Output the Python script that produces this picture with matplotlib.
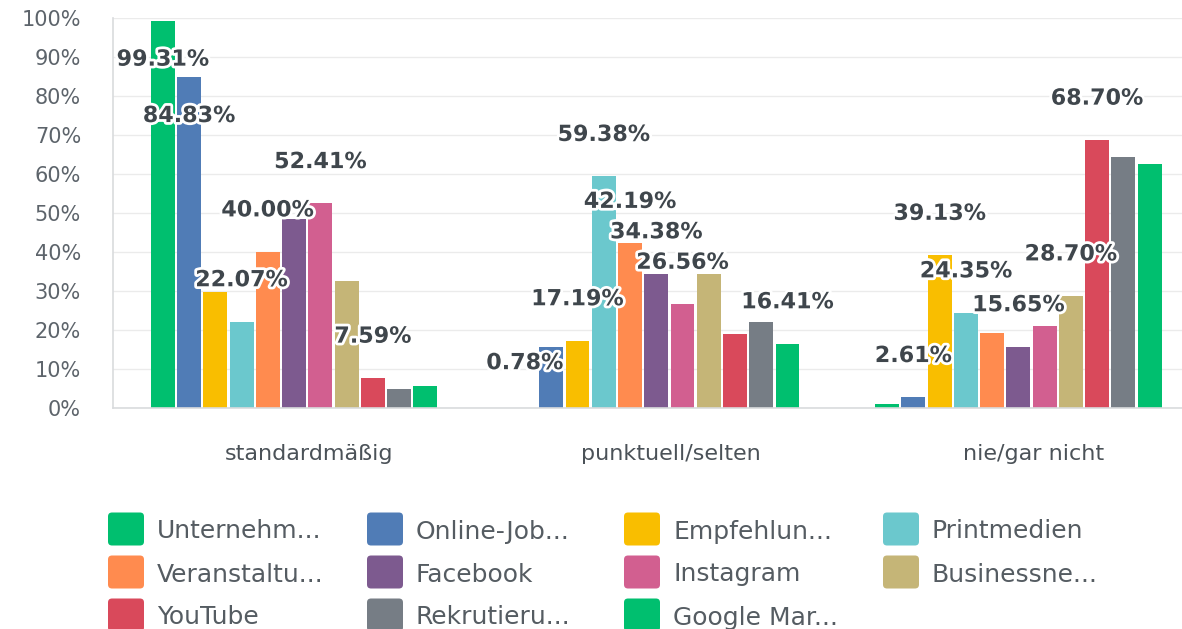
import numpy as np
import matplotlib
matplotlib.use('Agg')
import matplotlib.pyplot as plt
import matplotlib.patheffects as pe
from matplotlib.patches import FancyBboxPatch
from matplotlib.ticker import FuncFormatter
from matplotlib.transforms import ScaledTranslation

# categories on the x axis
categories = ['standardmäßig', 'punktuell/selten', 'nie/gar nicht']

# series names as shown (truncated) in the legend
series = ['Unternehm...', 'Online-Job...', 'Empfehlun...', 'Printmedien',
          'Veranstaltu...', 'Facebook', 'Instagram', 'Businessne...',
          'YouTube', 'Rekrutieru...', 'Google Mar...']
colors = ['#00bf6f', '#507cb6', '#f9be00', '#6bc8cd', '#ff8b4f', '#7d5a8f',
          '#d25f90', '#c5b577', '#d9495b', '#767d85', '#00bf6f']

# percent values per category, one entry per series
standard_vals = [99.31, 84.83, 29.66, 22.07, 40.00, 48.28, 52.41, 32.41, 7.59, 4.83, 5.52]
selten_vals = [0.0, 15.63, 17.19, 59.38, 42.19, 34.38, 26.56, 34.38, 18.75, 21.88, 16.41]
nie_vals = [0.87, 2.61, 39.13, 24.35, 19.13, 15.65, 20.87, 28.70, 68.70, 64.35, 62.61]

# visible value labels: (series index, label value) per category
labels_standard = [(0, 99.31), (1, 84.83), (3, 22.07), (4, 40.00), (6, 52.41), (8, 7.59)]
labels_selten = [(0, 0.78), (2, 17.19), (3, 59.38), (4, 42.19), (5, 34.38), (6, 26.56), (10, 16.41)]
labels_nie = [(1, 2.61), (2, 39.13), (3, 24.35), (5, 15.65), (7, 28.70), (8, 68.70)]

values = np.array([standard_vals, selten_vals, nie_vals])
labels = [labels_standard, labels_selten, labels_nie]

W, H = 1182, 629
fig = plt.figure(figsize=(W / 100, H / 100), dpi=100)
ax = fig.add_axes([113 / W, 221.5 / H, 1086.5 / W, 389.5 / H])

pitch = 0.0725
width = 0.066
x = np.arange(len(categories))
for j, name in enumerate(series):
    ax.bar(x + (j - 5) * pitch, values[:, j], width=width, color=colors[j], zorder=2)

# value labels with white halo
for i in range(len(categories)):
    for j, v in labels[i]:
        y = v + 10.6 if v + 10.6 < 92 else v - 10
        ax.text(x[i] + (j - 5) * pitch, y, f'{v:.2f}%', ha='center', va='center',
                fontsize=16, fontweight='bold', color='#3f464c', zorder=4,
                path_effects=[pe.withStroke(linewidth=4, foreground='white')])

ax.set_xlim(-0.5, 2.5)
ax.set_ylim(0, 100)
ax.set_yticks(np.arange(0, 101, 10))
ax.yaxis.set_major_formatter(FuncFormatter(lambda v, p: f'{v:.0f}%'))
ax.set_xticks(x)
ax.set_xticklabels(categories)
ax.tick_params(axis='y', length=0, pad=23, labelsize=15, labelcolor='#5d646b')
ax.tick_params(axis='x', length=0, pad=26, labelsize=16, labelcolor='#4b5258')
shift = ScaledTranslation(15 / 100, 0, fig.dpi_scale_trans)
for lab in ax.get_xticklabels():
    lab.set_transform(lab.get_transform() + shift)

ax.grid(axis='y', color='#ebebeb', linewidth=1, zorder=0)
for s in ['top', 'right']:
    ax.spines[s].set_visible(False)
for s in ['left', 'bottom']:
    ax.spines[s].set_color('#d9dbdd')
    ax.spines[s].set_linewidth(1.2)

# legend: rounded colour squares, 4 columns
col_x = [108, 367, 624, 883]
row_y = [529, 572, 615]
for k, name in enumerate(series):
    r, c = divmod(k, 4)
    x0 = col_x[c]
    yc = row_y[r]
    box = FancyBboxPatch(((x0 + 4) / W, (H - yc - 12.5) / H), 28 / W, 25 / H,
                         boxstyle=f'round,pad={4 / W}', transform=fig.transFigure,
                         facecolor=colors[k], edgecolor='none', mutation_aspect=W / H)
    fig.patches.append(box)
    fig.text((x0 + 49) / W, (H - yc) / H, name, fontsize=18, color='#555c62',
             ha='left', va='center_baseline')

fig.savefig('out.png', dpi=100)
